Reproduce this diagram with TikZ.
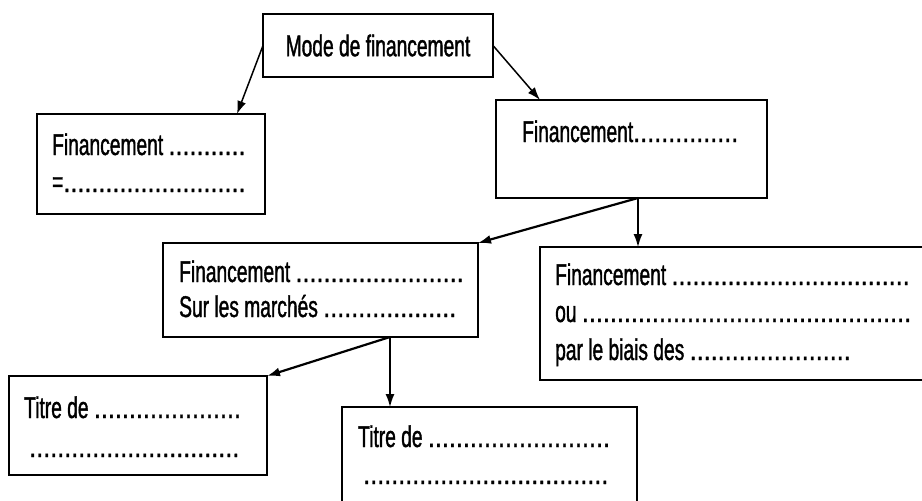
\documentclass[tikz,border=0pt]{standalone}
\usepackage{fontspec}
\setmainfont{Liberation Sans}[FakeStretch=0.64,FakeBold=1.2]
\newfontfamily\dotfont{Liberation Sans}[FakeStretch=0.84,FakeBold=1]
\usetikzlibrary{arrows.meta}
\newcommand\dotrow[1]{{\dotfont\foreach\k in {1,...,#1}{.}}}
\begin{document}
\begin{tikzpicture}[x=1pt,y=-1pt,
  every node/.style={font=\fontsize{30}{37}\selectfont},
  box/.style={draw, line width=1.8pt, rectangle, inner sep=0pt, outer sep=0pt, anchor=north west},
  txt/.style={inner sep=0pt, anchor=base west},
  conn/.style={line width=1.5pt, -{Latex[length=13pt,width=9pt]}},
  thickconn/.style={conn, line width=2.2pt}]
\useasboundingbox (0,0) rectangle (922,501);
\clip (0,0) rectangle (922,501);
% boxes
\node[box, minimum width=230pt, minimum height=63pt] (top) at (263,14) {Mode de financement};
\node[box, minimum width=228pt, minimum height=100pt] (left) at (37,114) {};
\node[box, minimum width=271pt, minimum height=98pt] (right) at (496,100) {};
\node[box, minimum width=315pt, minimum height=94pt] (midl) at (163,243) {};
\node[box, minimum width=420pt, minimum height=133pt] (rbot) at (540,247) {};
\node[box, minimum width=258pt, minimum height=99pt] (bl) at (9,376) {};
\node[box, minimum width=295pt, minimum height=133pt] (bm) at (342,407) {};
% texts
\node[txt] (left1) at (52,155) {Financement \dotrow{11}};
\node[txt] (left2) at (52,192) {=\dotrow{26}};
\node[txt] (right1) at (522,142) {Financement\dotrow{15}};
\node[txt] (midl1) at (179,282) {Financement \dotrow{24}};
\node[txt] (midl2) at (179,317) {Sur les marchés \dotrow{19}};
\node[txt] (rbot1) at (555,285) {Financement \dotrow{34}};
\node[txt] (rbot2) at (555,322) {ou \dotrow{47}};
\node[txt] (rbot3) at (555,360) {par le biais des \dotrow{23}};
\node[txt] (bl1) at (24,418) {Titre de \dotrow{21}};
\node[txt] (bl2) at (29,457) {\dotrow{30}};
\node[txt] (bm1) at (358,447) {Titre de \dotrow{26}};
\node[txt] (bm2) at (363,484) {\dotrow{35}};
% connectors
\coordinate (rb) at ([xshift=142pt]right.south west);
\coordinate (mb) at ([xshift=227pt]midl.south west);
\draw[conn] (top.west) -- ([xshift=-28pt]left.north east);
\draw[conn] (top.east) -- ([xshift=44pt]right.north west);
\draw[thickconn] (rb) -- (midl.north east);
\draw[conn] (rb) -- (rb |- rbot.north);
\draw[thickconn] (mb) -- (bl.north east);
\draw[conn] (mb) -- (mb |- bm.north);
\end{tikzpicture}
\end{document}
